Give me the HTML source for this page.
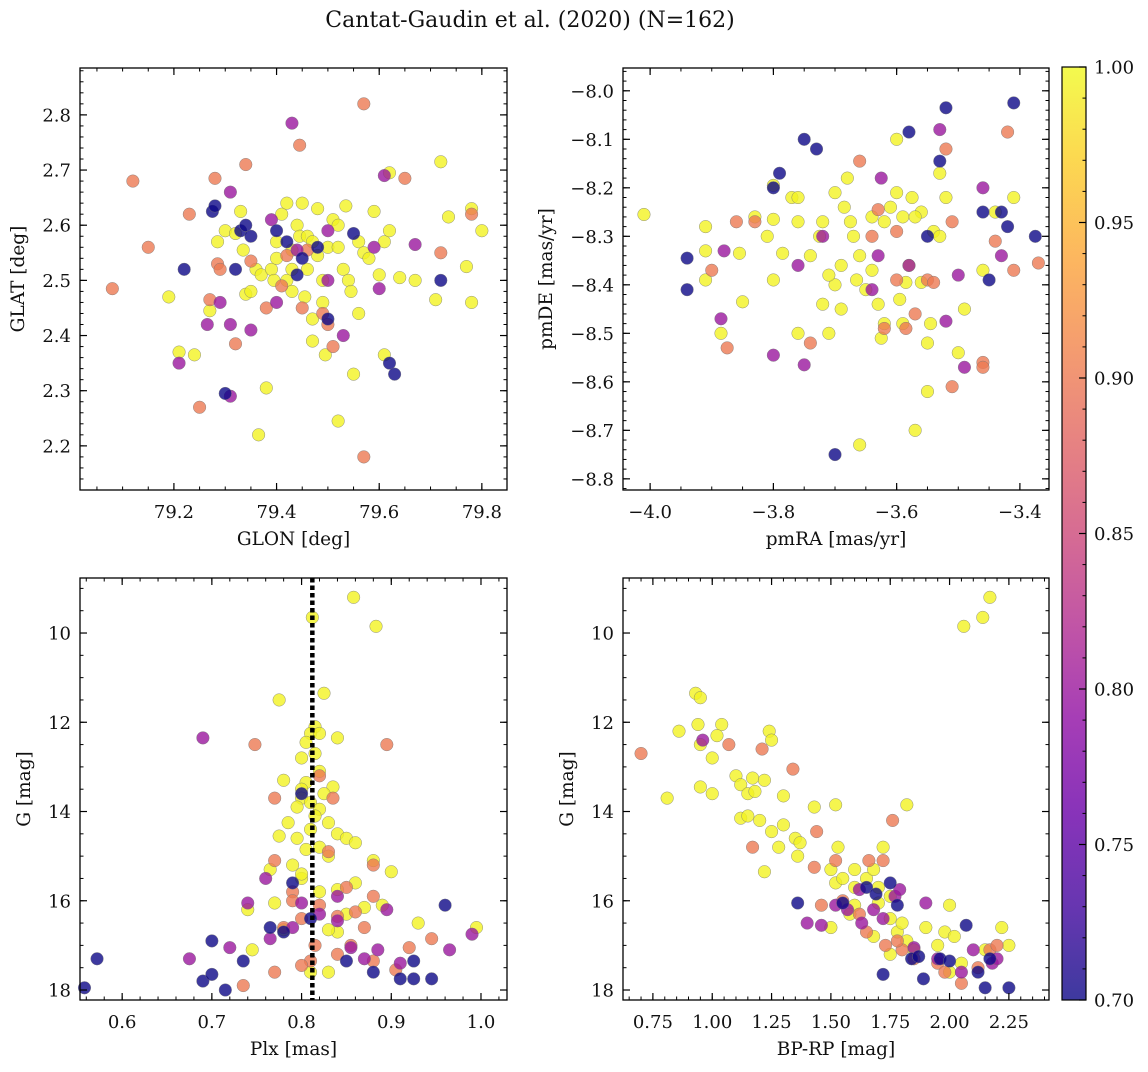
<!DOCTYPE html>
<html><head><meta charset="utf-8"><style>
html,body{margin:0;padding:0;background:#fff;}
svg text{font-family:"DejaVu Serif","Liberation Serif",serif;fill:#111;}
</style></head><body>
<svg id="chart" width="1148" height="1067" xmlns="http://www.w3.org/2000/svg">
<text x="530" y="27" font-size="22" text-anchor="middle">Cantat-Gaudin et al. (2020) (N=162)</text>
</svg>
<script>
// ---------- Data ----------
const p1Yellow=[[79.19,2.47],[79.21,2.37],[79.24,2.365],[79.27,2.445],[79.285,2.57],[79.30,2.59],[79.32,2.585],[79.33,2.625],[79.335,2.555],[79.34,2.475],[79.35,2.48],[79.36,2.52],[79.365,2.22],[79.37,2.51],[79.38,2.305],[79.39,2.52],[79.395,2.50],[79.40,2.57],[79.40,2.54],[79.41,2.62],[79.42,2.64],[79.42,2.50],[79.43,2.48],[79.43,2.52],[79.44,2.60],[79.445,2.58],[79.45,2.64],[79.46,2.52],[79.46,2.58],[79.47,2.43],[79.47,2.39],[79.48,2.63],[79.48,2.545],[79.49,2.46],[79.49,2.50],[79.495,2.365],[79.50,2.56],[79.51,2.61],[79.52,2.56],[79.52,2.245],[79.53,2.52],[79.535,2.635],[79.54,2.50],[79.545,2.48],[79.55,2.33],[79.56,2.57],[79.56,2.44],[79.57,2.55],[79.58,2.54],[79.59,2.625],[79.60,2.51],[79.61,2.57],[79.61,2.365],[79.62,2.59],[79.62,2.695],[79.64,2.505],[79.67,2.50],[79.71,2.465],[79.72,2.715],[79.735,2.615],[79.77,2.525],[79.78,2.63],[79.78,2.46],[79.80,2.59],[79.52,2.6],[79.47,2.57],[79.43,2.555],[79.455,2.47]];
const p1Salmon=[[79.08,2.485],[79.12,2.68],[79.15,2.56],[79.23,2.62],[79.25,2.27],[79.27,2.465],[79.28,2.685],[79.285,2.53],[79.29,2.52],[79.32,2.385],[79.34,2.71],[79.35,2.535],[79.38,2.45],[79.445,2.745],[79.45,2.45],[79.49,2.44],[79.50,2.42],[79.51,2.38],[79.57,2.82],[79.57,2.18],[79.65,2.685],[79.72,2.55],[79.78,2.62],[79.41,2.49],[79.42,2.545],[79.46,2.555]];
const p1Purple=[[79.21,2.35],[79.265,2.42],[79.29,2.46],[79.31,2.42],[79.31,2.29],[79.31,2.66],[79.35,2.41],[79.39,2.61],[79.43,2.785],[79.40,2.46],[79.44,2.555],[79.50,2.50],[79.50,2.59],[79.53,2.40],[79.60,2.485],[79.61,2.69],[79.67,2.565],[79.59,2.56]];
const p1Blue=[[79.22,2.52],[79.275,2.625],[79.28,2.635],[79.30,2.295],[79.32,2.52],[79.33,2.59],[79.34,2.60],[79.35,2.58],[79.40,2.59],[79.42,2.57],[79.45,2.54],[79.48,2.56],[79.50,2.43],[79.55,2.585],[79.62,2.35],[79.63,2.33],[79.72,2.50],[79.44,2.51]];

const p2Yellow=[[-4.01,-8.255],[-3.91,-8.28],[-3.91,-8.33],[-3.91,-8.39],[-3.885,-8.5],[-3.855,-8.335],[-3.85,-8.435],[-3.83,-8.26],[-3.80,-8.265],[-3.81,-8.3],[-3.80,-8.195],[-3.80,-8.39],[-3.785,-8.335],[-3.77,-8.22],[-3.76,-8.27],[-3.76,-8.5],[-3.74,-8.34],[-3.72,-8.27],[-3.72,-8.44],[-3.71,-8.5],[-3.70,-8.21],[-3.70,-8.40],[-3.69,-8.36],[-3.69,-8.45],[-3.685,-8.24],[-3.68,-8.18],[-3.675,-8.27],[-3.67,-8.3],[-3.665,-8.39],[-3.66,-8.73],[-3.66,-8.34],[-3.65,-8.41],[-3.64,-8.37],[-3.63,-8.44],[-3.625,-8.51],[-3.62,-8.27],[-3.61,-8.24],[-3.60,-8.21],[-3.59,-8.26],[-3.59,-8.48],[-3.595,-8.43],[-3.585,-8.395],[-3.58,-8.36],[-3.575,-8.22],[-3.57,-8.7],[-3.56,-8.25],[-3.55,-8.62],[-3.55,-8.52],[-3.545,-8.48],[-3.54,-8.29],[-3.52,-8.22],[-3.50,-8.54],[-3.49,-8.45],[-3.46,-8.37],[-3.44,-8.25],[-3.41,-8.22],[-3.60,-8.1],[-3.725,-8.3],[-3.71,-8.38],[-3.64,-8.26],[-3.62,-8.48],[-3.76,-8.22],[-3.53,-8.17],[-3.53,-8.3],[-3.56,-8.395],[-3.57,-8.26]];
const p2Salmon=[[-3.90,-8.37],[-3.875,-8.53],[-3.86,-8.27],[-3.83,-8.27],[-3.74,-8.52],[-3.66,-8.145],[-3.64,-8.30],[-3.62,-8.49],[-3.60,-8.39],[-3.60,-8.29],[-3.57,-8.46],[-3.55,-8.39],[-3.52,-8.12],[-3.51,-8.27],[-3.46,-8.56],[-3.46,-8.57],[-3.44,-8.31],[-3.42,-8.085],[-3.41,-8.37],[-3.37,-8.355],[-3.54,-8.395],[-3.63,-8.245],[-3.585,-8.49],[-3.51,-8.61]];
const p2Purple=[[-3.885,-8.47],[-3.88,-8.33],[-3.80,-8.545],[-3.76,-8.36],[-3.75,-8.565],[-3.72,-8.3],[-3.64,-8.41],[-3.625,-8.18],[-3.53,-8.08],[-3.52,-8.475],[-3.50,-8.38],[-3.49,-8.57],[-3.46,-8.2],[-3.43,-8.34],[-3.63,-8.34],[-3.58,-8.36]];
const p2Blue=[[-3.94,-8.345],[-3.94,-8.41],[-3.80,-8.2],[-3.79,-8.17],[-3.75,-8.1],[-3.73,-8.12],[-3.70,-8.75],[-3.58,-8.085],[-3.53,-8.145],[-3.52,-8.035],[-3.46,-8.25],[-3.45,-8.39],[-3.43,-8.25],[-3.42,-8.28],[-3.375,-8.3],[-3.41,-8.025],[-3.55,-8.3]];

const p3Yellow=[[0.812,9.65],[0.858,9.2],[0.883,9.85],[0.775,11.5],[0.825,11.35],[0.815,12.1],[0.81,12.25],[0.82,12.25],[0.84,12.35],[0.805,12.45],[0.815,12.7],[0.80,12.8],[0.82,13.1],[0.78,13.3],[0.805,13.35],[0.835,13.45],[0.80,13.5],[0.825,13.6],[0.8,13.7],[0.81,13.8],[0.82,13.95],[0.795,13.9],[0.815,14.1],[0.785,14.25],[0.83,14.25],[0.81,14.4],[0.84,14.5],[0.775,14.55],[0.795,14.6],[0.85,14.6],[0.82,14.8],[0.805,14.85],[0.86,14.7],[0.83,15.0],[0.88,15.1],[0.79,15.2],[0.765,15.3],[0.90,15.35],[0.80,15.5],[0.82,15.8],[0.84,15.75],[0.86,15.6],[0.74,16.2],[0.77,16.05],[0.85,16.3],[0.87,16.15],[0.89,16.1],[0.93,16.5],[0.995,16.6],[0.84,16.7],[0.83,16.65],[0.745,17.1],[0.78,16.65],[0.81,17.6],[0.83,17.6],[0.80,15.4]];
const p3Salmon=[[0.748,12.5],[0.895,12.5],[0.77,13.7],[0.82,13.2],[0.835,13.7],[0.77,15.1],[0.83,14.9],[0.88,15.2],[0.79,15.8],[0.85,15.7],[0.78,16.6],[0.80,16.4],[0.82,16.1],[0.84,16.35],[0.88,15.9],[0.87,16.6],[0.855,17.0],[0.815,17.0],[0.81,17.35],[0.80,17.45],[0.735,17.9],[0.77,17.6],[0.88,17.35],[0.92,17.05],[0.945,16.85],[0.905,17.55],[0.84,17.2],[0.86,16.25],[0.79,16.0]];
const p3Purple=[[0.69,12.35],[0.675,17.3],[0.72,17.05],[0.74,16.05],[0.76,15.5],[0.765,16.85],[0.79,16.6],[0.80,16.05],[0.82,16.3],[0.84,16.45],[0.855,17.05],[0.885,17.1],[0.895,16.2],[0.91,17.4],[0.965,17.1],[0.99,16.75],[0.84,15.9],[0.87,17.3]];
const p3Blue=[[0.558,17.95],[0.572,17.3],[0.69,17.8],[0.70,17.65],[0.70,16.9],[0.715,18.0],[0.735,17.35],[0.765,16.6],[0.78,16.7],[0.79,15.6],[0.80,13.6],[0.81,16.4],[0.85,17.35],[0.91,17.75],[0.925,17.75],[0.925,17.35],[0.945,17.75],[0.96,16.1],[0.88,17.6]];
const p3MeanPlx=0.812;

const p4Yellow=[[2.17,9.2],[2.14,9.65],[2.06,9.85],[0.93,11.35],[0.95,11.45],[0.86,12.2],[0.94,12.05],[1.04,12.05],[1.02,12.3],[0.95,12.5],[1.0,12.8],[0.81,13.7],[0.95,13.45],[1.0,13.6],[1.10,13.2],[1.12,13.4],[1.15,13.6],[1.17,13.25],[1.18,13.55],[1.22,13.3],[1.24,12.2],[1.25,12.4],[1.12,14.15],[1.15,14.1],[1.2,14.2],[1.25,14.45],[1.3,13.65],[1.3,14.3],[1.35,14.6],[1.37,14.7],[1.43,13.9],[1.22,15.35],[1.28,14.8],[1.36,15.0],[1.52,13.85],[1.53,14.8],[1.5,15.3],[1.52,15.6],[1.55,15.5],[1.6,15.3],[1.6,15.7],[1.65,15.5],[1.68,15.3],[1.7,15.7],[1.72,14.8],[1.75,15.9],[1.82,13.85],[1.5,16.6],[1.6,16.1],[1.7,16.05],[1.75,16.4],[1.78,16.7],[1.8,16.5],[1.82,16.9],[1.85,17.1],[1.9,16.6],[1.95,17.0],[1.98,16.7],[2.0,16.1],[2.02,16.8],[2.0,17.6],[2.05,17.4],[2.15,17.1],[2.22,16.6],[2.25,17.0],[1.68,16.8],[1.58,16.3],[1.75,17.2]];
const p4Salmon=[[0.70,12.7],[1.07,12.5],[1.21,12.6],[1.34,13.05],[1.17,14.8],[1.44,14.45],[1.52,15.1],[1.43,15.25],[1.66,15.1],[1.76,14.2],[1.72,15.1],[1.55,16.0],[1.46,16.1],[1.62,16.3],[1.65,16.7],[1.73,17.0],[1.8,17.1],[1.85,17.3],[1.95,17.4],[2.05,17.85],[2.12,17.5],[2.17,17.1],[2.2,17.0],[1.98,17.6],[1.78,16.9]];
const p4Purple=[[0.96,12.4],[1.46,16.55],[1.52,16.1],[1.57,16.2],[1.63,16.5],[1.68,16.2],[1.72,16.4],[1.77,15.9],[1.79,15.75],[1.85,17.05],[1.9,16.05],[1.95,17.3],[2.05,17.6],[2.1,17.1],[2.18,17.4],[2.2,17.3],[1.62,15.75],[1.4,16.5]];
const p4Blue=[[1.36,16.05],[1.55,16.05],[1.65,15.7],[1.69,15.85],[1.72,17.65],[1.75,15.6],[1.84,17.3],[1.87,17.25],[1.89,17.75],[1.96,17.3],[2.0,17.35],[2.07,16.55],[2.12,17.6],[2.15,17.95],[2.25,17.95],[2.17,17.3],[1.78,16.1]];

const groupProb=[0.995,0.9,0.8,0.7];
const cbTicks=[0.70,0.75,0.80,0.85,0.90,0.95,1.00];

// ---------- Rendering ----------
const NS='http://www.w3.org/2000/svg';
const svg=document.getElementById('chart');
function mk(tag,attrs,parent){const e=document.createElementNS(NS,tag);for(const k in attrs)e.setAttribute(k,attrs[k]);(parent||svg).appendChild(e);return e;}
const stops=['#0d0887','#41049d','#6a00a8','#8f0da4','#b12a90','#cc4778','#e16462','#f2844b','#fca636','#fcce25','#f0f921'];
function hex(h){return [1,3,5].map(i=>parseInt(h.substr(i,2),16));}
function plasma(t){t=Math.max(0,Math.min(1,t));const f=t*10,i=Math.min(9,Math.floor(f)),u=f-i;const a=hex(stops[i]),b=hex(stops[i+1]);return 'rgb('+a.map((v,k)=>Math.round(v+(b[k]-v)*u)).join(',')+')';}
function cnorm(p){return (p-0.7)/0.3;}
const TF=18, LF=18.5;

function panel(cfg){
  const g=mk('g',{});
  
  
  const L=cfg.x0,R=cfg.x1,T=cfg.y0,B=cfg.y1;
  const sx=v=>L+(v-cfg.xmin)/(cfg.xmax-cfg.xmin)*(R-L);
  const sy=cfg.yinv?(v=>T+(v-cfg.ymin)/(cfg.ymax-cfg.ymin)*(B-T)):(v=>B-(v-cfg.ymin)/(cfg.ymax-cfg.ymin)*(B-T));
  const pg=mk('g',{},g);
  
  
  cfg.groups.forEach((arr,gi)=>{
    arr.forEach(p=>{
      const c=mk('circle',{cx:sx(p[0]),cy:sy(p[1]),r:6.3,fill:plasma(cnorm(groupProb[gi])),'fill-opacity':0.8,stroke:'#777','stroke-width':0.5,'stroke-opacity':0.8},pg);
      
      
    });
  });
  if(cfg.vline!==undefined){
    const l=mk('line',{x1:sx(cfg.vline),x2:sx(cfg.vline),y1:T,y2:B,stroke:'#000','stroke-width':4.5,'stroke-dasharray':'4.5,3'},g);
    
    
  }
  const fr=mk('rect',{x:L,y:T,width:R-L,height:B-T,fill:'none',stroke:'#000','stroke-width':1.3},g);
  
  
  const eps=1e-9;
  for(let v=Math.ceil(cfg.xmin/cfg.xmin_step-eps)*cfg.xmin_step;v<=cfg.xmax+eps;v+=cfg.xmin_step){
    const x=sx(v);mk('line',{x1:x,x2:x,y1:B,y2:B-3.5,stroke:'#000','stroke-width':1},g);mk('line',{x1:x,x2:x,y1:T,y2:T+3.5,stroke:'#000','stroke-width':1},g);
  }
  cfg.xticks.forEach(v=>{
    const x=sx(v);mk('line',{x1:x,x2:x,y1:B,y2:B-7,stroke:'#000','stroke-width':1.2},g);mk('line',{x1:x,x2:x,y1:T,y2:T+7,stroke:'#000','stroke-width':1.2},g);
    const t=mk('text',{x:x,y:B+28,'font-size':TF,'text-anchor':'middle'},g);t.textContent=cfg.xfmt(v);
    
  });
  for(let v=Math.ceil(cfg.ymin/cfg.ymin_step-eps)*cfg.ymin_step;v<=cfg.ymax+eps;v+=cfg.ymin_step){
    const y=sy(v);mk('line',{x1:L,x2:L+3.5,y1:y,y2:y,stroke:'#000','stroke-width':1},g);mk('line',{x1:R,x2:R-3.5,y1:y,y2:y,stroke:'#000','stroke-width':1},g);
  }
  cfg.yticks.forEach(v=>{
    const y=sy(v);mk('line',{x1:L,x2:L+7,y1:y,y2:y,stroke:'#000','stroke-width':1.2},g);mk('line',{x1:R,x2:R-7,y1:y,y2:y,stroke:'#000','stroke-width':1.2},g);
    const t=mk('text',{x:L-9,y:y+6.5,'font-size':TF,'text-anchor':'end'},g);t.textContent=cfg.yfmt(v);
    
  });
  const xl=mk('text',{x:(L+R)/2,y:B+55,'font-size':LF,'text-anchor':'middle'},g);xl.textContent=cfg.xlabel;
  
  const yx=cfg.ylabx,yy=(T+B)/2;
  const yl=mk('text',{x:yx,y:yy,'font-size':LF,'text-anchor':'middle',transform:'rotate(-90 '+yx+' '+yy+')'},g);yl.textContent=cfg.ylabel;
  
}
const r=(v,d)=>v.toFixed(d);
panel({name:'glon-glat-panel',x0:80,x1:507,y0:68,y1:490,xmin:79.017,xmax:79.849,ymin:2.120,ymax:2.885,xticks:[79.2,79.4,79.6,79.8],xmin_step:0.05,yticks:[2.2,2.3,2.4,2.5,2.6,2.7,2.8],ymin_step:0.02,xfmt:v=>r(v,1),yfmt:v=>r(v,1),xlabel:'GLON [deg]',ylabel:'GLAT [deg]',ylabx:24,groups:[p1Yellow,p1Salmon,p1Purple,p1Blue]});
panel({name:'proper-motion-panel',x0:623,x1:1049,y0:68,y1:490,xmin:-4.044,xmax:-3.3528,ymin:-8.823,ymax:-7.953,xticks:[-4.0,-3.8,-3.6,-3.4],xmin_step:0.05,yticks:[-8.8,-8.7,-8.6,-8.5,-8.4,-8.3,-8.2,-8.1,-8.0],ymin_step:0.02,xfmt:v=>r(v,1).replace('-','−'),yfmt:v=>r(v,1).replace('-','−'),xlabel:'pmRA [mas/yr]',ylabel:'pmDE [mas/yr]',ylabx:552,groups:[p2Yellow,p2Salmon,p2Purple,p2Blue]});
panel({name:'parallax-mag-panel',x0:80,x1:507,y0:578,y1:1000,xmin:0.553,xmax:1.029,ymin:8.767,ymax:18.224,yinv:true,xticks:[0.6,0.7,0.8,0.9,1.0],xmin_step:0.02,yticks:[10,12,14,16,18],ymin_step:0.5,xfmt:v=>r(v,1),yfmt:v=>r(v,0),xlabel:'Plx [mas]',ylabel:'G [mag]',ylabx:30,vline:p3MeanPlx,groups:[p3Yellow,p3Salmon,p3Purple,p3Blue]});
panel({name:'color-mag-panel',x0:623,x1:1049,y0:578,y1:1000,xmin:0.624,xmax:2.419,ymin:8.767,ymax:18.224,yinv:true,xticks:[0.75,1.0,1.25,1.5,1.75,2.0,2.25],xmin_step:0.05,yticks:[10,12,14,16,18],ymin_step:0.5,xfmt:v=>r(v,2),yfmt:v=>r(v,0),xlabel:'BP-RP [mag]',ylabel:'G [mag]',ylabx:573,groups:[p4Yellow,p4Salmon,p4Purple,p4Blue]});

const cb=mk('g',{});


const defs=mk('defs',{},cb);
const lg=mk('linearGradient',{id:'pl',x1:0,y1:1,x2:0,y2:0},defs);
stops.forEach((s,i)=>mk('stop',{offset:i/10,'stop-color':s,'stop-opacity':0.8},lg));
const CT=67,CB=1000,CL=1062,CR=1086;
mk('rect',{x:CL,y:CT,width:CR-CL,height:CB-CT,fill:'url(#pl)',stroke:'#000','stroke-width':1.2},cb);
const cy=v=>CB-(v-0.7)/0.3*(CB-CT);
for(let v=0.70;v<=1.0001;v+=0.01){mk('line',{x1:CR,x2:CR-3.5,y1:cy(v),y2:cy(v),stroke:'#000','stroke-width':1},cb);}
cbTicks.forEach(v=>{
  mk('line',{x1:CR,x2:CR-7,y1:cy(v),y2:cy(v),stroke:'#000','stroke-width':1.2},cb);
  const t=mk('text',{x:CR+8,y:cy(v)+6.5,'font-size':TF},cb);t.textContent=v.toFixed(2);
  
});
</script>
</body></html>
